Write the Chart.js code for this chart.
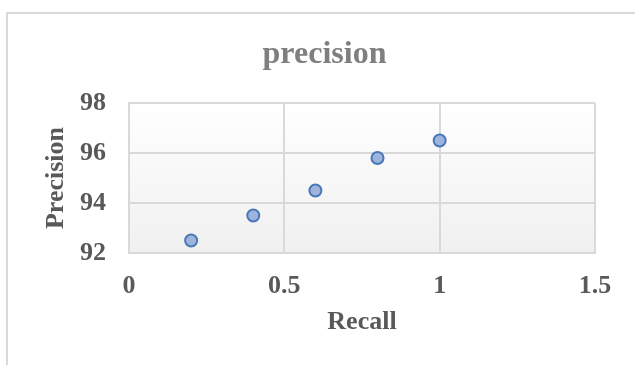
<!DOCTYPE html>
<html>
<head>
<meta charset="utf-8">
<script src="https://cdn.jsdelivr.net/npm/chart.js@4"></script>
<style>
  html, body { margin: 0; padding: 0; background: #ffffff; overflow: hidden; }
  #cadre {
    position: absolute; left: 0; top: 0; width: 635px; height: 365px;
  }
  /* bordure de la zone graphique (coupée à droite et en bas) */
  #bord {
    position: absolute; left: 6px; top: 12px; width: 700px; height: 400px;
    border-left: 2px solid #d9d9d9; border-top: 2px solid #d9d9d9;
  }
  canvas { position: absolute; left: 0; top: 0; }
</style>
</head>
<body>
<div id="cadre">
  <div id="bord"></div>
  <canvas id="chart-precision" width="635" height="365"></canvas>
</div>
<script>
/* ── Données ─────────────────────────────────────────────── */
const recallValues    = [0.2, 0.4, 0.6, 0.8, 1.0];
const precisionValues = [92.5, 93.5, 94.5, 95.8, 96.5];
const xTickLabels     = ['0', '0.5', '1', '1.5'];
const yTickLabels     = ['92', '94', '96', '98'];
const titreGraphique  = 'precision';

const POLICE = "'Liberation Serif', 'Times New Roman', serif";

/* ── Fond dégradé de la zone de tracé ────────────────────── */
const fondDegrade = {
  id: 'fondDegrade',
  beforeDraw(chart) {
    const { ctx, chartArea: a } = chart;
    const g = ctx.createLinearGradient(0, a.top, 0, a.bottom);
    g.addColorStop(0, '#ffffff');
    g.addColorStop(1, '#f0f0f0');
    ctx.save();
    ctx.fillStyle = g;
    ctx.fillRect(a.left, a.top, a.right - a.left, a.bottom - a.top);
    ctx.restore();
  },
};

/* ── Titre centré sur le cadre (qui déborde à droite) ────── */
const titreCadre = {
  id: 'titreCadre',
  afterDraw(chart) {
    const { ctx } = chart;
    ctx.save();
    ctx.fillStyle = '#7f7f7f';
    ctx.font = `bold 32px ${POLICE}`;
    ctx.textAlign = 'center';
    ctx.textBaseline = 'middle';
    ctx.fillText(titreGraphique, chart.width / 2 + 7, 55);
    ctx.restore();
  },
};

const ctx = document.getElementById('chart-precision').getContext('2d');

new Chart(ctx, {
  type: 'scatter',
  data: {
    datasets: [{
      label: titreGraphique,
      data: recallValues.map((x, i) => ({ x, y: precisionValues[i] })),
      backgroundColor: '#9fb4dc',
      borderColor: '#4878b8',
      borderWidth: 2,
      pointRadius: 6,
      pointHoverRadius: 6,
    }],
  },
  options: {
    responsive: false,
    animation: false,
    layout: { padding: { top: 103, right: 40, bottom: 0, left: 0 } },
    plugins: {
      legend: { display: false },
      tooltip: { enabled: false },
      title: { display: false },
    },
    scales: {
      x: {
        type: 'linear',
        min: 0,
        max: 1.5,
        afterFit: s => { s.height = 112; },
        grid: { color: '#d9d9d9', lineWidth: 2, drawTicks: false },
        border: { color: '#d9d9d9', width: 2 },
        ticks: {
          stepSize: 0.5,
          padding: 18,
          color: '#595959',
          font: { family: POLICE, size: 26, weight: 'bold' },
          callback: (v, i) => xTickLabels[i],
        },
        title: {
          display: true,
          text: 'Recall',
          color: '#595959',
          font: { family: POLICE, size: 26, weight: 'bold', lineHeight: 1.2 },
          padding: { top: 0, bottom: 27 },
        },
      },
      y: {
        min: 92,
        max: 98,
        afterFit: s => { s.width = 129; },
        grid: { color: '#d9d9d9', lineWidth: 2, drawTicks: false },
        border: { color: '#d9d9d9', width: 2 },
        ticks: {
          stepSize: 2,
          padding: 23,
          color: '#595959',
          font: { family: POLICE, size: 26, weight: 'bold' },
          callback: (v, i) => yTickLabels[i],
        },
        title: {
          display: true,
          text: 'Precision',
          color: '#595959',
          font: { family: POLICE, size: 26, weight: 'bold', lineHeight: 1.2 },
          padding: { top: 41, bottom: 0 },
        },
      },
    },
  },
  plugins: [fondDegrade, titreCadre],
});
</script>
</body>
</html>
